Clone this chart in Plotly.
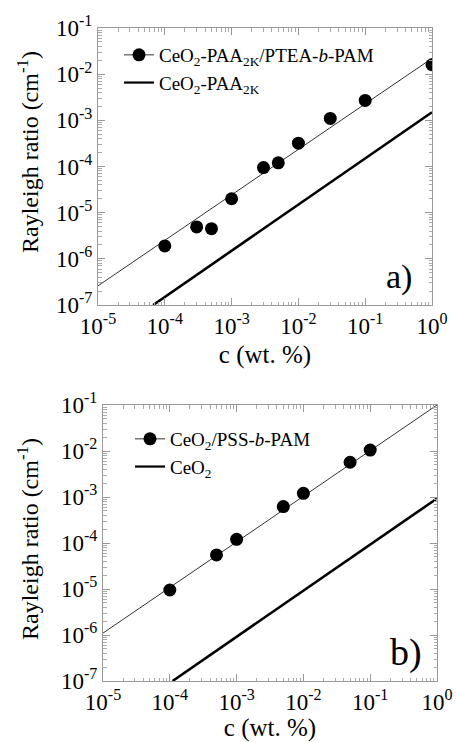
import plotly.graph_objects as go

# ---- data (panel a) ----
c_a = [1e-4, 3e-4, 5e-4, 1e-3, 3e-3, 5e-3, 1e-2, 3e-2, 1e-1, 1.0]
R_a = [1.9e-6, 4.9e-6, 4.5e-6, 2.0e-5, 9.5e-5, 1.2e-4, 3.2e-4, 1.1e-3, 2.7e-3, 1.6e-2]
fit_a_c = [1e-5, 1.0]
fit_a_R = [2.6e-7, 2.2e-2]
ref_a_c = [6.7e-5, 1.0]
ref_a_R = [1e-7, 1.5e-3]

# ---- data (panel b) ----
c_b = [1e-4, 5e-4, 1e-3, 5e-3, 1e-2, 5e-2, 1e-1]
R_b = [9.5e-6, 5.5e-5, 1.2e-4, 6.2e-4, 1.2e-3, 5.7e-3, 1.05e-2]
fit_b_c = [1e-5, 1.0]
fit_b_R = [1.1e-6, 1e-1]
ref_b_c = [1.1e-4, 1.0]
ref_b_R = [1e-7, 9.3e-4]

# ---- tick labels ----
x_tickvals = [1e-5, 1e-4, 1e-3, 1e-2, 1e-1, 1e0]
x_ticktext = ["10<sup>-5</sup>", "10<sup>-4</sup>", "10<sup>-3</sup>", "10<sup>-2</sup>",
              "10<sup>-1</sup>", "10<sup>0</sup>"]
y_tickvals = [1e-7, 1e-6, 1e-5, 1e-4, 1e-3, 1e-2, 1e-1]
y_ticktext = ["10<sup>-7</sup>", "10<sup>-6</sup>", "10<sup>-5</sup>", "10<sup>-4</sup>",
              "10<sup>-3</sup>", "10<sup>-2</sup>", "10<sup>-1</sup>"]

name_a1 = "CeO<sub>2</sub>-PAA<sub>2K</sub>/PTEA-<i>b</i>-PAM"
name_a2 = "CeO<sub>2</sub>-PAA<sub>2K</sub>"
name_b1 = "CeO<sub>2</sub>/PSS-<i>b</i>-PAM"
name_b2 = "CeO<sub>2</sub>"

FONT = "Liberation Serif"
W, H = 456, 742
MS = 13

fig = go.Figure()

def add_panel(xa, ya, leg, c, R, fc, fR, rc, rR, n1, n2):
    fig.add_trace(go.Scatter(x=fc, y=fR, mode="lines", line=dict(color="#333", width=1),
                             showlegend=False, xaxis=xa, yaxis=ya, hoverinfo="skip"))
    fig.add_trace(go.Scatter(x=rc, y=rR, mode="lines", line=dict(color="black", width=2.6),
                             showlegend=False, xaxis=xa, yaxis=ya))
    fig.add_trace(go.Scatter(x=c, y=R, mode="markers", marker=dict(color="black", size=MS),
                             showlegend=False, xaxis=xa, yaxis=ya))
    # legend entries
    fig.add_trace(go.Scatter(x=[None], y=[None], mode="lines+markers", name=n1,
                             marker=dict(color="black", size=MS), line=dict(color="#333", width=1),
                             legend=leg, legendgroup=leg + "1", xaxis=xa, yaxis=ya))
    fig.add_trace(go.Scatter(x=[None], y=[None], mode="lines", name=n2,
                             line=dict(color="black", width=2.2),
                             legend=leg, legendgroup=leg + "2", xaxis=xa, yaxis=ya))

add_panel("x", "y", "legend", c_a, R_a, fit_a_c, fit_a_R, ref_a_c, ref_a_R, name_a1, name_a2)
add_panel("x2", "y2", "legend2", c_b, R_b, fit_b_c, fit_b_R, ref_b_c, ref_b_R, name_b1, name_b2)

def px_x(p):
    return p / W

def px_y(p):
    return 1 - p / H

axis_common = dict(
    type="log", showgrid=False, zeroline=False, automargin=False,
    showline=True, linecolor="#999", linewidth=1, mirror="ticks",
    ticks="inside", ticklen=7, tickcolor="#999", tickwidth=1,
    minor=dict(ticks="inside", ticklen=3.5, tickcolor="#aaa", dtick="D1", showgrid=False),
    tickfont=dict(family=FONT, size=23, color="black"),
)
x_common = dict(axis_common, tickmode="array", tickvals=x_tickvals, ticktext=x_ticktext)
y_common = dict(axis_common, tickmode="array", tickvals=y_tickvals, ticktext=y_ticktext)

xa_dom = [px_x(98), px_x(432)]
xb_dom = [px_x(103), px_x(437)]
ya_dom = [px_y(305), px_y(28)]
yb_dom = [px_y(681), px_y(405)]

xtitle = dict(text="c (wt. %)", font=dict(family=FONT, size=25, color="black"), standoff=7)

fig.update_layout(
    width=W, height=H, margin=dict(l=0, r=0, t=0, b=0, autoexpand=False),
    paper_bgcolor="white", plot_bgcolor="white",
    xaxis=dict(x_common, domain=xa_dom, range=[-5, 0], anchor="y", title=xtitle),
    yaxis=dict(y_common, domain=ya_dom, range=[-7, -1], anchor="x"),
    xaxis2=dict(x_common, domain=xb_dom, range=[-5, 0], anchor="y2", title=xtitle),
    yaxis2=dict(y_common, domain=yb_dom, range=[-7, -1], anchor="x2"),
    legend=dict(x=px_x(119), y=px_y(36), xanchor="left", yanchor="top",
                bgcolor="rgba(0,0,0,0)", font=dict(family=FONT, size=19, color="black"),
                tracegroupgap=0),
    legend2=dict(x=px_x(130), y=px_y(420), xanchor="left", yanchor="top",
                 bgcolor="rgba(0,0,0,0)", font=dict(family=FONT, size=19, color="black"),
                 tracegroupgap=0),
    annotations=[
        dict(text="Rayleigh ratio (cm<sup>-1</sup>)", textangle=-90, x=px_x(28), y=px_y(152),
             xref="paper", yref="paper", showarrow=False, xanchor="center", yanchor="middle",
             font=dict(family=FONT, size=24, color="black")),
        dict(text="Rayleigh ratio (cm<sup>-1</sup>)", textangle=-90, x=px_x(28), y=px_y(539),
             xref="paper", yref="paper", showarrow=False, xanchor="center", yanchor="middle",
             font=dict(family=FONT, size=24, color="black")),
        dict(text="a)", x=px_x(399), y=px_y(277), xref="paper", yref="paper", showarrow=False,
             xanchor="center", yanchor="middle", font=dict(family=FONT, size=34, color="black")),
        dict(text="b)", x=px_x(406), y=px_y(652), xref="paper", yref="paper", showarrow=False,
             xanchor="center", yanchor="middle", font=dict(family=FONT, size=38, color="black")),
    ],
)

fig.write_html("out.html", config={"displayModeBar": False},
               post_script="document.body.style.margin='0';")
